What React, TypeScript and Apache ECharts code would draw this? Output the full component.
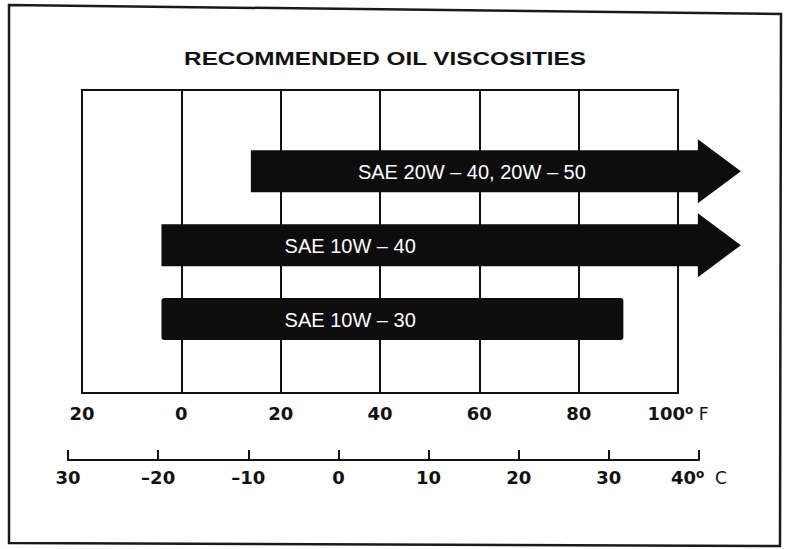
import React, { useEffect, useRef } from 'react';
import * as echarts from 'echarts';

const TITLE = 'RECOMMENDED OIL VISCOSITIES';
const grades = ['SAE 20W – 40, 20W – 50', 'SAE 10W – 40', 'SAE 10W – 30'];
const lowF = [14, -4, -4];
const highF = [104, 104, 89];
const openEnded = [1, 1, 0];
const rowLevel = [3, 2, 1];
const labelAtF = [58.5, 34, 34];
const fTicks = [-20, 0, 20, 40, 60, 80, 100];
const fTickLabels = ['20', '0', '20', '40', '60', '80', '100'];
const cTicks = [-30, -20, -10, 0, 10, 20, 30, 40];
const cTickLabels = ['30', '–20', '–10', '0', '10', '20', '30', '40'];

const INK = '#111111';

export default function App() {
  const ref = useRef<HTMLDivElement>(null);
  useEffect(() => {
    if (!ref.current) return;
    const chart = echarts.init(ref.current, null, { renderer: 'svg' });
    const data = grades.map((g, i) => [lowF[i], highF[i], rowLevel[i], openEnded[i], labelAtF[i]]);
    const labelRich = {
      n: { fontSize: 18, fontWeight: 'bold', fontFamily: 'DejaVu Sans', color: INK },
      o: { fontSize: 12, fontWeight: 'bold', fontFamily: 'DejaVu Sans', color: INK, verticalAlign: 'top' },
      u: { fontSize: 17, fontWeight: 'normal', fontFamily: 'DejaVu Sans', color: INK, verticalAlign: 'bottom' },
    };
    chart.setOption({
      animation: false,
      backgroundColor: '#ffffff',
      graphic: [
        {
          type: 'polygon',
          shape: { points: [[9, 5], [781, 14], [780, 546], [9, 543]] },
          style: { fill: 'none', stroke: '#1a1a1a', lineWidth: 2.5 },
          silent: true,
        },
        {
          type: 'text',
          x: 385,
          y: 59,
          scaleX: 1.35,
          style: {
            text: TITLE,
            fontSize: 18,
            fontWeight: 'bold',
            fontFamily: 'Liberation Sans',
            fill: INK,
            textAlign: 'center',
            textVerticalAlign: 'middle',
          },
          silent: true,
        },
      ],
      grid: [
        { left: 82, top: 90, width: 596, height: 303, show: true, borderColor: INK, borderWidth: 2, backgroundColor: 'transparent' },
        { left: 68, top: 459, width: 631, height: 1, show: false },
      ],
      xAxis: [
        {
          gridIndex: 0,
          type: 'value',
          min: fTicks[0],
          max: fTicks[fTicks.length - 1],
          interval: 20,
          axisLine: { show: false },
          axisTick: { show: false },
          splitLine: { show: true, lineStyle: { color: INK, width: 2 } },
          axisLabel: {
            margin: 11,
            color: INK,
            fontSize: 18,
            fontWeight: 'bold',
            fontFamily: 'DejaVu Sans',
            formatter: (v: number) => {
              const i = fTicks.indexOf(v);
              if (i === fTicks.length - 1) return '{n|' + fTickLabels[i] + '}{o|o}{u| F}';
              return '{n|' + (i >= 0 ? fTickLabels[i] : '') + '}';
            },
            rich: labelRich,
          },
        },
        {
          gridIndex: 1,
          type: 'value',
          min: cTicks[0],
          max: cTicks[cTicks.length - 1],
          interval: 10,
          position: 'bottom',
          axisLine: { show: true, lineStyle: { color: INK, width: 2 } },
          axisTick: { show: true, inside: true, length: 10, lineStyle: { color: INK, width: 2 } },
          splitLine: { show: false },
          axisLabel: {
            margin: 8,
            color: INK,
            fontSize: 18,
            fontWeight: 'bold',
            fontFamily: 'DejaVu Sans',
            formatter: (v: number) => {
              const i = cTicks.indexOf(v);
              if (i === cTicks.length - 1) return '{n|' + cTickLabels[i] + '}{o|o}{u|  C}';
              return '{n|' + (i >= 0 ? cTickLabels[i] : '') + '}';
            },
            rich: labelRich,
          },
        },
      ],
      yAxis: [
        { gridIndex: 0, type: 'value', min: 0, max: 4.1, show: false, splitLine: { show: false } },
        { gridIndex: 1, type: 'value', show: false, splitLine: { show: false } },
      ],
      series: [
        {
          type: 'custom',
          xAxisIndex: 0,
          yAxisIndex: 0,
          clip: false,
          silent: true,
          data,
          renderItem: (params: any, api: any) => {
            const lo = api.coord([api.value(0), api.value(2)]);
            const hi = api.coord([api.value(1), api.value(2)]);
            const lab = api.coord([api.value(4), api.value(2)]);
            const yc = lo[1];
            const h = 42, H = 64, L = 43;
            const bar = api.value(3)
              ? {
                  type: 'polygon',
                  shape: {
                    points: [
                      [lo[0], yc - h / 2], [hi[0], yc - h / 2], [hi[0], yc - H / 2], [hi[0] + L, yc],
                      [hi[0], yc + H / 2], [hi[0], yc + h / 2], [lo[0], yc + h / 2],
                    ],
                  },
                  style: { fill: '#0d0d0d' },
                }
              : {
                  type: 'rect',
                  shape: { x: lo[0], y: yc - h / 2, width: hi[0] - lo[0], height: h, r: 3 },
                  style: { fill: '#0d0d0d' },
                };
            return {
              type: 'group',
              children: [
                bar,
                {
                  type: 'text',
                  x: lab[0],
                  y: yc + 1,
                  style: {
                    text: grades[params.dataIndex],
                    fill: '#ffffff',
                    fontSize: 20,
                    fontFamily: 'Liberation Sans',
                    textAlign: 'center',
                    textVerticalAlign: 'middle',
                  },
                },
              ],
            };
          },
        },
      ],
    });
    return () => chart.dispose();
  }, []);
  return <div ref={ref} style={{ position: 'fixed', left: 0, top: 0, width: 790, height: 549 }} />;
}
